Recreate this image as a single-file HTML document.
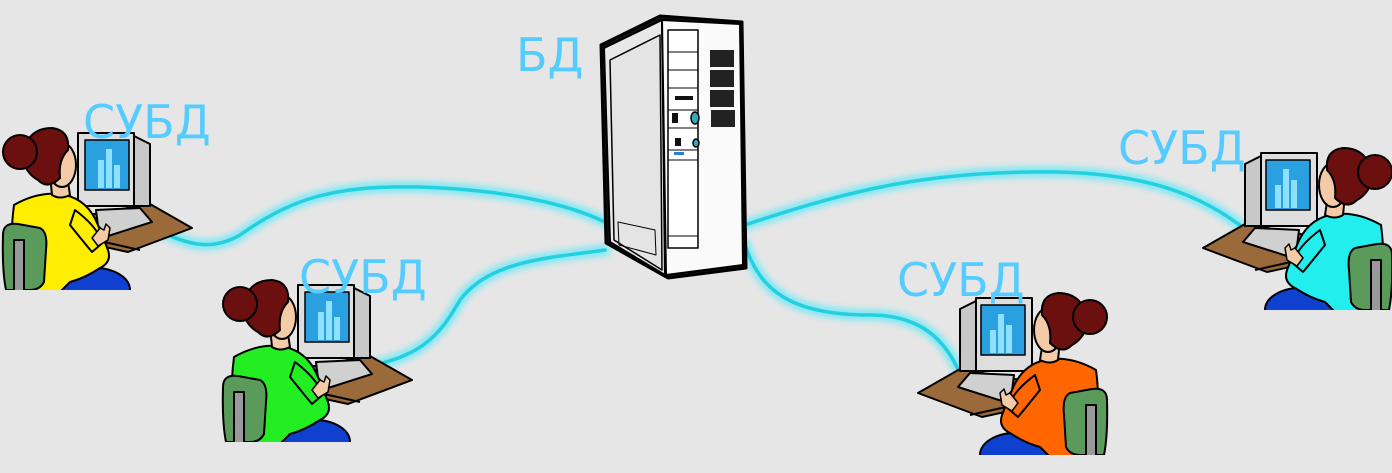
<!DOCTYPE html>
<html><head><meta charset="utf-8"><style>
html,body{margin:0;padding:0;background:#e6e6e6;}
svg{display:block}
text{font-family:"DejaVu Sans","Liberation Sans",sans-serif;fill:#55ccff;font-size:46px}
</style></head><body>
<svg width="1392" height="473" viewBox="0 0 1392 473" xmlns="http://www.w3.org/2000/svg">
<defs>
<clipPath id="cp"><rect x="-10" y="100" width="220" height="190"/></clipPath>
<filter id="glow" x="-20%" y="-50%" width="140%" height="200%"><feGaussianBlur stdDeviation="3"/></filter>
<g id="person" clip-path="url(#cp)" stroke="#000" stroke-width="2" stroke-linejoin="round">
  <polygon points="72,218 150,204 192,228 128,252 82,242" fill="#9a6a3a"/>
  <line x1="95" y1="240" x2="140" y2="250" stroke-width="2"/>
  <polygon points="130,134 150,144 150,206 130,206" fill="#c8c8c8"/>
  <rect x="78" y="133" width="56" height="73" fill="#dedede"/>
  <rect x="85" y="140" width="44" height="50" fill="#2aa0e0" stroke-width="1.5"/>
  <rect x="98" y="160" width="6" height="28" fill="#8ee0ff" stroke="none"/>
  <rect x="106" y="149" width="6" height="39" fill="#8ee0ff" stroke="none"/>
  <rect x="114" y="165" width="6" height="23" fill="#8ee0ff" stroke="none"/>
  <polygon points="96,210 140,208 152,222 108,236 98,226" fill="#d0d0d0"/>
  <ellipse cx="95" cy="290" rx="35" ry="22" fill="#1040d0"/>
  <path d="M14,205 Q40,190 65,195 Q88,200 98,225 L108,250 Q112,262 100,268 Q85,278 70,282 L60,292 L18,292 Q8,250 14,205 Z" fill="currentColor"/>
  <path d="M75,210 Q95,225 100,238 L106,240 L92,252 Q82,240 70,225 Z" fill="currentColor"/>
  <path d="M3,235 Q3,222 18,224 L40,228 Q48,232 46,250 L44,282 Q40,290 30,290 L6,290 Q2,270 3,235 Z" fill="#5a9a5a"/>
  <rect x="14" y="240" width="10" height="55" fill="#999"/>
  <path d="M92,238 l8,-10 l4,2 l2,-6 l4,4 l-2,12 l-10,6 Z" fill="#f5cba7" stroke-width="1.5"/>
  <path d="M50,175 L52,195 Q60,200 70,195 L68,182 Z" fill="#f5cba7"/>
  <ellipse cx="62" cy="165" rx="14" ry="22" fill="#f5cba7"/>
  <path d="M22,160 Q25,128 52,128 Q70,130 68,150 Q58,160 60,178 Q48,190 38,180 Q28,175 22,160 Z" fill="#6b0f0f"/>
  <circle cx="20" cy="152" r="17" fill="#6b0f0f"/>
</g>
</defs>

<g fill="none" stroke-linecap="round">
  <g stroke="#7ee8f5" stroke-width="12" filter="url(#glow)" opacity="0.9">
    <path d="M145,225 C180,240 205,255 240,235 C290,200 330,185 420,187 C510,190 570,205 605,222"/>
    <path d="M355,368 C420,360 440,335 460,300 C490,260 550,258 605,250"/>
    <path d="M745,245 C760,290 790,315 870,315 C930,315 950,350 962,378"/>
    <path d="M745,225 C850,190 930,170 1060,172 C1160,175 1210,200 1255,237"/>
  </g>
  <g stroke="#22d0e0" stroke-width="3.5">
    <path d="M145,225 C180,240 205,255 240,235 C290,200 330,185 420,187 C510,190 570,205 605,222"/>
    <path d="M355,368 C420,360 440,335 460,300 C490,260 550,258 605,250"/>
    <path d="M745,245 C760,290 790,315 870,315 C930,315 950,350 962,378"/>
    <path d="M745,225 C850,190 930,170 1060,172 C1160,175 1210,200 1255,237"/>
  </g>
</g>

<use href="#person" style="color:#ffee00"/>
<use href="#person" transform="translate(220,152)" style="color:#22ee22"/>
<use href="#person" transform="translate(1110,165) scale(-1,1)" style="color:#ff6600"/>
<use href="#person" transform="translate(1395,20) scale(-1,1)" style="color:#22eeee"/>

<!-- server -->
<g stroke="#000" stroke-linejoin="round">
  <polygon points="601,45 660,16 742,22 746,268 668,278 606,243" fill="#111" stroke-width="3"/>
  <polygon points="604,48 662,20 665,275 610,242" fill="#e8e8e8" stroke-width="2"/>
  <polygon points="610,60 660,35 662,270 614,240" fill="#e4e4e4" stroke-width="1.5"/>
  <polygon points="662,20 740,24 743,265 666,275" fill="#fafafa" stroke-width="2"/>
  <polygon points="618,222 655,230 656,255 619,245" fill="none" stroke-width="1"/>
  <rect x="668" y="30" width="30" height="218" fill="#fff" stroke-width="1.5"/>
  <line x1="668" y1="52" x2="698" y2="52" stroke-width="1"/>
  <line x1="668" y1="70" x2="698" y2="70" stroke-width="1"/>
  <line x1="668" y1="88" x2="698" y2="88" stroke-width="1"/>
  <line x1="668" y1="110" x2="698" y2="110" stroke-width="1"/>
  <line x1="668" y1="128" x2="698" y2="128" stroke-width="1"/>
  <line x1="668" y1="150" x2="698" y2="150" stroke-width="1"/>
  <line x1="668" y1="160" x2="698" y2="160" stroke-width="1"/>
  <line x1="668" y1="236" x2="698" y2="236" stroke-width="1"/>
  <rect x="675" y="96" width="18" height="4" fill="#111" stroke="none"/>
  <rect x="672" y="113" width="6" height="10" fill="#111" stroke="none"/>
  <ellipse cx="695" cy="118" rx="4" ry="6" fill="#3ab" stroke-width="1.5"/>
  <rect x="675" y="138" width="6" height="8" fill="#111" stroke="none"/>
  <ellipse cx="696" cy="143" rx="3" ry="4" fill="#3ab" stroke-width="1.5"/>
  <rect x="674" y="152" width="10" height="3" fill="#2a80d0" stroke="none"/>
  <g fill="#222" stroke="none">
    <rect x="710" y="50" width="24" height="17"/>
    <rect x="710" y="70" width="24" height="17"/>
    <rect x="710" y="90" width="24" height="17"/>
    <rect x="711" y="110" width="24" height="17"/>
  </g>
</g>

<text x="516" y="71">БД</text>
<text x="83" y="138">СУБД</text>
<text x="299" y="293">СУБД</text>
<text x="897" y="296">СУБД</text>
<text x="1118" y="164">СУБД</text>
</svg>
</body></html>
